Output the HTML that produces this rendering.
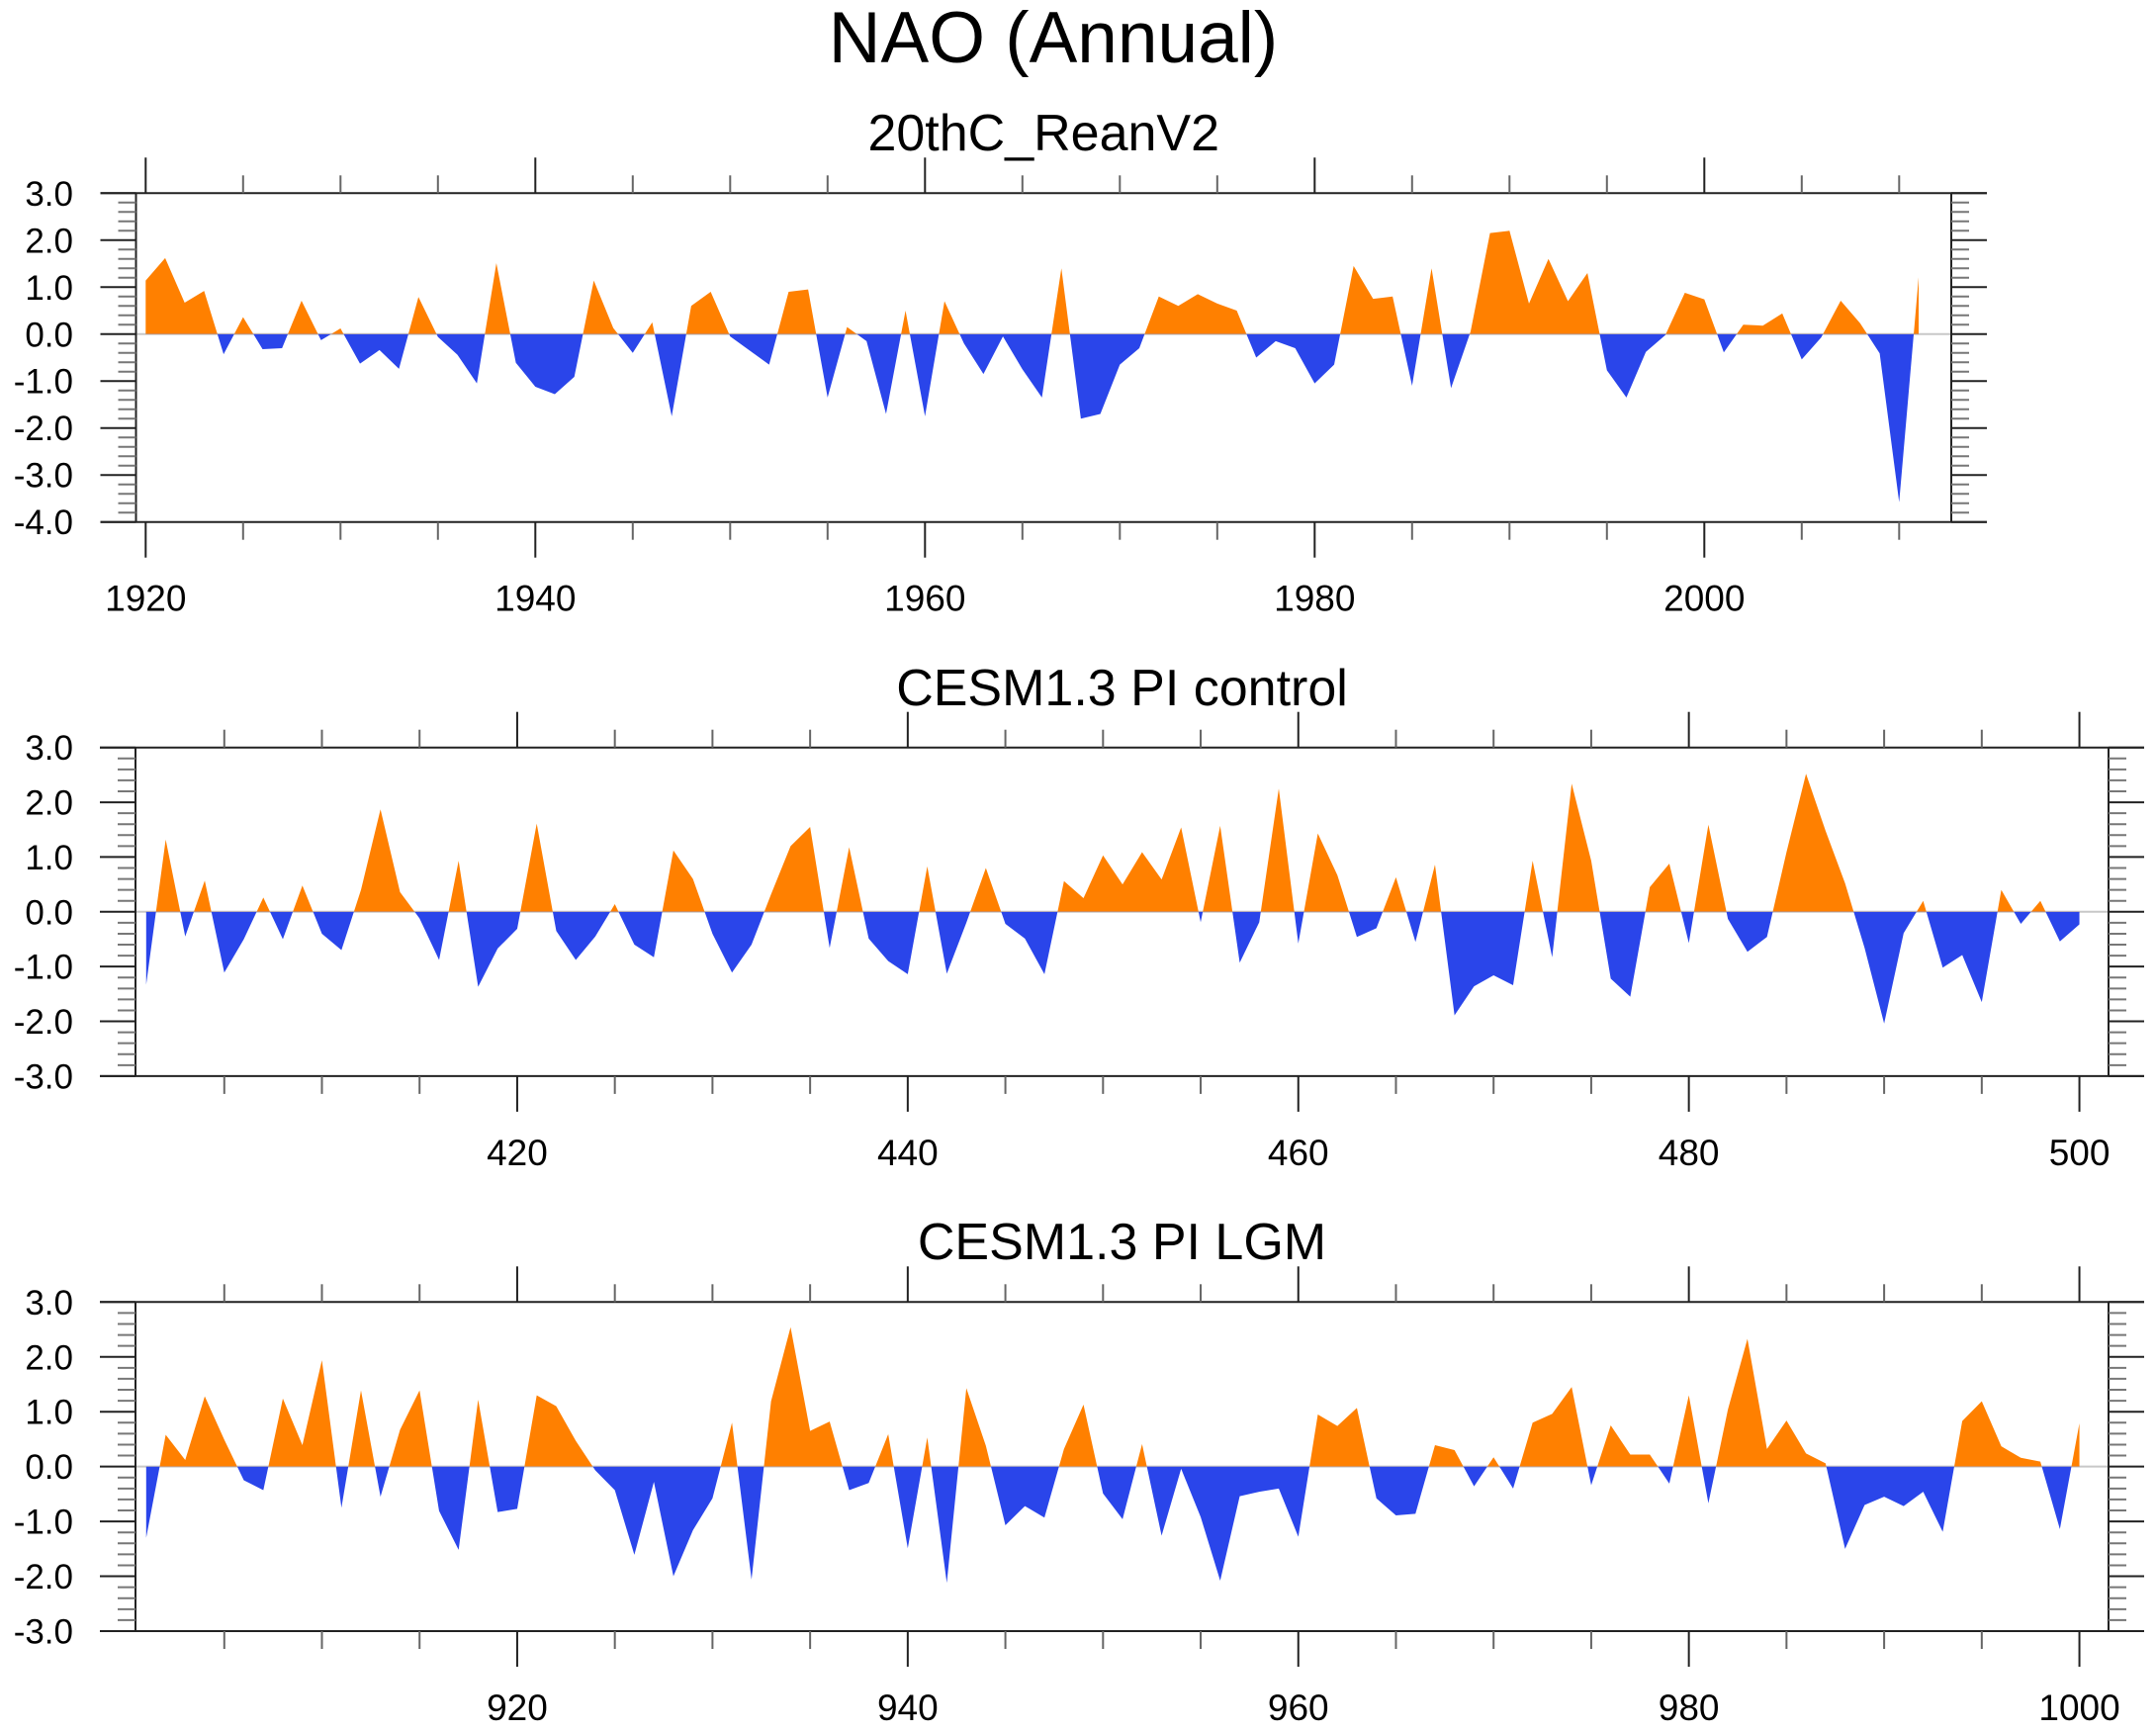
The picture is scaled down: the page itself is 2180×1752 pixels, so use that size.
<!DOCTYPE html>
<html><head><meta charset="utf-8"><style>
html,body{margin:0;padding:0;background:#fff;}
svg{display:block;font-family:"Liberation Sans",Arial,sans-serif;}
</style></head><body>
<svg id="chart" xmlns="http://www.w3.org/2000/svg" width="2180" height="1752" viewBox="0 0 2180 1752">
<text x="1065" y="63" font-size="73" text-anchor="middle">NAO (Annual)</text>
</svg>
<script>
const reanYears0 = 1920;
const reanValues = [1.14,1.62,0.67,0.92,-0.43,0.36,-0.32,-0.30,0.71,-0.13,0.12,-0.63,-0.34,-0.74,0.79,-0.06,-0.44,-1.05,1.51,-0.61,
-1.12,-1.28,-0.91,1.14,0.13,-0.40,0.25,-1.75,0.60,0.90,-0.05,-0.35,-0.65,0.90,0.95,-1.35,0.15,-0.15,-1.70,0.50,
-1.75,0.70,-0.20,-0.85,-0.05,-0.75,-1.35,1.40,-1.80,-1.70,-0.65,-0.30,0.80,0.60,0.85,0.65,0.50,-0.50,-0.15,-0.30,
-1.05,-0.65,1.45,0.75,0.80,-1.10,1.40,-1.15,0.05,2.15,2.20,0.65,1.60,0.70,1.30,-0.77,-1.35,-0.38,-0.02,0.88,
0.74,-0.39,0.20,0.18,0.44,-0.54,-0.07,0.71,0.23,-0.41,-3.58,1.21];
const ctrlYears0 = 401;
const ctrlValues = [-1.33,1.32,-0.45,0.57,-1.11,-0.50,0.26,-0.50,0.48,-0.40,-0.70,0.40,1.87,0.36,-0.12,-0.88,0.93,-1.37,-0.67,-0.31,
1.61,-0.35,-0.88,-0.45,0.14,-0.60,-0.83,1.12,0.60,-0.40,-1.11,-0.60,0.32,1.20,1.55,-0.66,1.18,-0.49,-0.90,-1.14,
0.83,-1.13,-0.20,0.80,-0.22,-0.49,-1.14,0.56,0.25,1.03,0.50,1.09,0.59,1.54,-0.19,1.57,-0.93,-0.19,2.25,-0.58,
1.43,0.67,-0.46,-0.30,0.63,-0.55,0.86,-1.89,-1.36,-1.16,-1.34,0.93,-0.83,2.34,0.93,-1.22,-1.55,0.45,0.88,-0.57,
1.59,-0.13,-0.73,-0.46,1.09,2.52,1.48,0.52,-0.66,-2.04,-0.39,0.20,-1.02,-0.79,-1.65,0.40,-0.22,0.20,-0.54,-0.23];
const lgmYears0 = 901;
const lgmValues = [-1.30,0.58,0.12,1.28,0.49,-0.25,-0.43,1.24,0.39,1.94,-0.75,1.39,-0.55,0.67,1.39,-0.81,-1.52,1.22,-0.83,-0.77,
1.30,1.10,0.47,-0.07,-0.43,-1.61,-0.28,-2.00,-1.16,-0.58,0.80,-2.06,1.19,2.54,0.65,0.82,-0.43,-0.30,0.59,-1.49,
0.53,-2.12,1.43,0.38,-1.07,-0.72,-0.93,0.32,1.13,-0.49,-0.96,0.41,-1.26,-0.04,-0.92,-2.08,-0.54,-0.46,-0.40,-1.28,
0.95,0.74,1.07,-0.58,-0.89,-0.86,0.39,0.30,-0.36,0.17,-0.40,0.80,0.96,1.45,-0.34,0.75,0.22,0.22,-0.31,1.30,
-0.67,1.04,2.33,0.32,0.84,0.24,0.06,-1.50,-0.70,-0.55,-0.72,-0.46,-1.19,0.83,1.19,0.37,0.16,0.09,-1.14,0.79];
const panelTitles = ["20thC_ReanV2","CESM1.3 PI control","CESM1.3 PI LGM"];
const reanXTicks = [1920,1940,1960,1980,2000];
const ctrlXTicks = [420,440,460,480,500];
const lgmXTicks = [920,940,960,980,1000];
const reanYTicks = [3,2,1,0,-1,-2,-3,-4];
const modelYTicks = [3,2,1,0,-1,-2,-3];

const NS="http://www.w3.org/2000/svg";
const svg=document.getElementById('chart');
function mk(tag,attrs,parent){const e=document.createElementNS(NS,tag);for(const k in attrs)e.setAttribute(k,attrs[k]);(parent||svg).appendChild(e);return e;}

const panels=[
 {name:'rean',title:panelTitles[0],y0:reanYears0,vals:reanValues,xt:reanXTicks,yt:reanYTicks,
  left:137.5,right:1973,top:195.3,bottom:527.7,ymax:3,ymin:-4,xa:147.3,dx:19.7,tickStart:1920,tickEnd:2010,titleY:152},
 {name:'control',title:panelTitles[1],y0:ctrlYears0,vals:ctrlValues,xt:ctrlXTicks,yt:modelYTicks,
  left:137,right:2132,top:755.7,bottom:1087.9,ymax:3,ymin:-3,xa:147.8,dx:19.745,tickStart:405,tickEnd:500,titleY:713},
 {name:'lgm',title:panelTitles[2],y0:lgmYears0,vals:lgmValues,xt:lgmXTicks,yt:modelYTicks,
  left:137,right:2132,top:1316.3,bottom:1649,ymax:3,ymin:-3,xa:147.8,dx:19.745,tickStart:905,tickEnd:1000,titleY:1273}
];

panels.forEach((p,pi)=>{
  const X=yr=>p.xa+(yr-p.y0)*p.dx;
  const Y=v=>p.top+(p.ymax-v)*(p.bottom-p.top)/(p.ymax-p.ymin);
  const g=mk('g',{});
  
  
  const t=mk('text',{x:(p.left+p.right)/2,y:p.titleY,'font-size':52,'text-anchor':'middle'},g);
  t.textContent=p.title;
  
  
  const y0=Y(0);
  // zero line
  const zl=mk('line',{x1:p.left,x2:p.right,y1:y0,y2:y0,stroke:'#c8c8c8','stroke-width':2},g);
  
  
  // area
  let d='M'+X(p.y0)+','+y0;
  p.vals.forEach((v,i)=>{d+=' L'+X(p.y0+i).toFixed(2)+','+Y(v).toFixed(2);});
  d+=' L'+X(p.y0+p.vals.length-1)+','+y0+' Z';
  const cidA='ca'+pi, cidB='cb'+pi;
  const defs=mk('defs',{},g);
  const ca=mk('clipPath',{id:cidA},defs); mk('rect',{x:0,y:p.top-50,width:2180,height:y0-p.top+50},ca);
  const cb=mk('clipPath',{id:cidB},defs); mk('rect',{x:0,y:y0,width:2180,height:p.bottom-y0+50},cb);
  const pos=mk('path',{d:d,fill:'#ff8000','clip-path':'url(#'+cidA+')'},g);
  
  
  const neg=mk('path',{d:d,fill:'#2a45ea','clip-path':'url(#'+cidB+')'},g);
  
  
  // frame
  const ax=mk('g',{stroke:'#222','stroke-width':2,fill:'none'},g);
  
  
  mk('line',{x1:p.left-36,x2:p.right+36,y1:p.top,y2:p.top},ax);
  mk('line',{x1:p.left-36,x2:p.right+36,y1:p.bottom,y2:p.bottom},ax);
  mk('line',{x1:p.left,x2:p.left,y1:p.top,y2:p.bottom},ax);
  mk('line',{x1:p.right,x2:p.right,y1:p.top,y2:p.bottom},ax);
  // x ticks
  for(let yr=p.tickStart;yr<=p.tickEnd;yr+=5){
    const major=p.xt.indexOf(yr)>=0; const L=major?36:18; const x=X(yr);
    mk('line',{x1:x,x2:x,y1:p.top-L,y2:p.top,stroke:major?'#222':'#666'},ax);
    mk('line',{x1:x,x2:x,y1:p.bottom,y2:p.bottom+L,stroke:major?'#222':'#666'},ax);
  }
  p.xt.forEach(yr=>{
    const l=mk('text',{x:X(yr),y:p.bottom+90,'font-size':37,'text-anchor':'middle'},g);
    l.textContent=String(yr);
    
    
  });
  // y ticks
  for(let k=Math.round(p.ymin*5);k<=Math.round(p.ymax*5);k++){
    const v=k/5; const major=(k%5===0); const L=major?36:18; const y=Y(v);
    mk('line',{x1:p.left-L,x2:p.left,y1:y,y2:y,stroke:major?'#222':'#777'},ax);
    mk('line',{x1:p.right,x2:p.right+L,y1:y,y2:y,stroke:major?'#222':'#777'},ax);
  }
  p.yt.forEach(v=>{
    const l=mk('text',{x:74,y:Y(v)+12.5,'font-size':35,'text-anchor':'end'},g);
    l.textContent=v.toFixed(1);
    
    
  });
});
</script>
</body></html>
